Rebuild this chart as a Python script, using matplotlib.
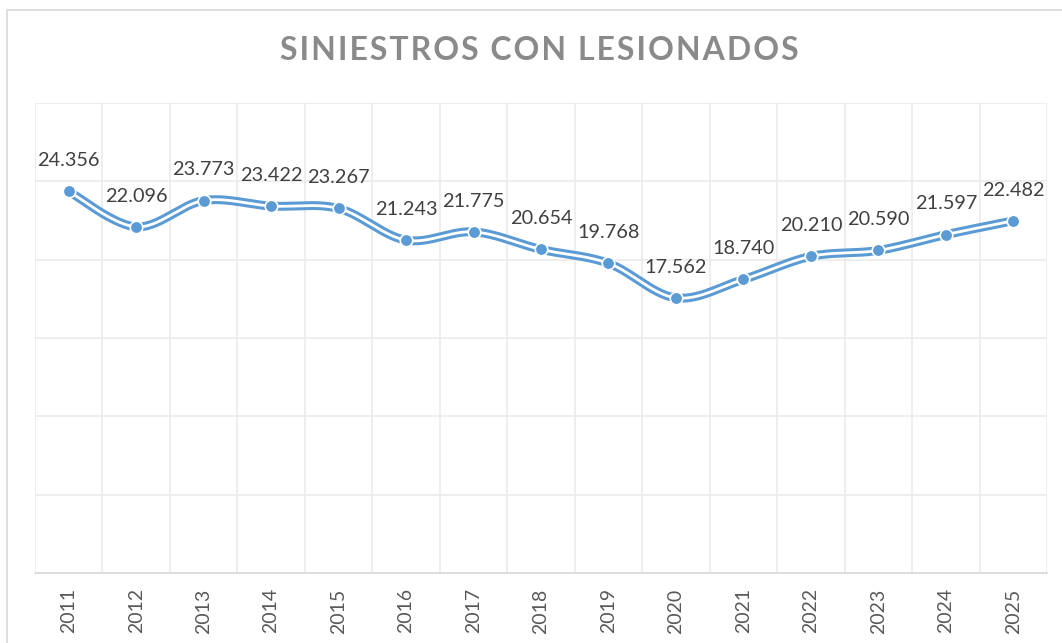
import numpy as np
import matplotlib.pyplot as plt
from matplotlib.patches import Rectangle

years = ['2011', '2012', '2013', '2014', '2015', '2016', '2017', '2018',
         '2019', '2020', '2021', '2022', '2023', '2024', '2025']
siniestros = [24356, 22096, 23773, 23422, 23267, 21243, 21775, 20654,
              19768, 17562, 18740, 20210, 20590, 21597, 22482]
title = 'SINIESTROS CON LESIONADOS'

BLUE = '#5B9BD5'
GRID = '#ebebeb'
TEXT = '#404040'


def smooth(x, y, n=30):
    # catmull-rom like excel "smoothed line"
    x = np.asarray(x, float)
    y = np.asarray(y, float)
    px = np.concatenate(([x[0]], x, [x[-1]]))
    py = np.concatenate(([y[0]], y, [y[-1]]))
    xs, ys = [], []
    t = np.linspace(0, 1, n)
    for i in range(1, len(px) - 2):
        p0, p1, p2, p3 = (px[i-1], py[i-1]), (px[i], py[i]), (px[i+1], py[i+1]), (px[i+2], py[i+2])
        c1 = (p1[0] + (p2[0] - p0[0]) / 6, p1[1] + (p2[1] - p0[1]) / 6)
        c2 = (p2[0] - (p3[0] - p1[0]) / 6, p2[1] - (p3[1] - p1[1]) / 6)
        for a, b in ((0, xs), (1, ys)):
            b.extend((1-t)**3 * p1[a] + 3*(1-t)**2*t * c1[a] + 3*(1-t)*t**2 * c2[a] + t**3 * p2[a])
    return np.array(xs), np.array(ys)


plt.rcParams['font.family'] = ['Lato', 'DejaVu Sans']

fig = plt.figure(figsize=(10.62, 6.43), dpi=100)
fig.patches.append(Rectangle((7 / 1062, -0.1), 1.2, 1 - 10 / 643 + 0.1, transform=fig.transFigure,
                             facecolor='white', edgecolor='#d9d9d9', lw=1.2, zorder=-5))
ax = fig.add_axes([35 / 1062, 1 - 573 / 643, 1012 / 1062, 470 / 643])
ax.set_facecolor('none')

x = np.arange(len(years))
sx, sy = smooth(x, siniestros)
ax.plot(sx, sy, color=BLUE, lw=6.4, solid_capstyle='round', zorder=3)
ax.plot(sx, sy, color='white', lw=2.0, solid_capstyle='round', zorder=4)
ax.plot(x, siniestros, 'o', color=BLUE, ms=9, mec='white', mew=1.2, zorder=5)

for xi, v in zip(x, siniestros):
    ax.annotate(f'{v / 1000:.3f}', (xi, v), xytext=(0, 16), textcoords='offset points',
                ha='center', va='bottom', fontsize=14.3, color=TEXT, zorder=6)

ax.set_xlim(-0.5, len(years) - 0.5)
ax.set_ylim(0, 30000)
ax.set_yticks(np.arange(0, 30001, 5000))
ax.set_xticks(x)
ax.set_xticklabels(years, rotation=90, fontsize=14, color='#595959')
ax.set_xticks(np.arange(-0.5, len(years), 1), minor=True)
ax.tick_params(axis='x', which='both', length=0, pad=11)
ax.tick_params(axis='y', length=0, labelleft=False)
ax.grid(axis='y', color=GRID, lw=1.2)
ax.grid(axis='x', which='minor', color=GRID, lw=1.2)
ax.grid(axis='x', which='major', visible=False)
ax.set_axisbelow(True)
for s in ['top', 'left', 'right']:
    ax.spines[s].set_visible(False)
ax.spines['bottom'].set_color('#d9d9d9')
ax.spines['bottom'].set_linewidth(1.2)

spaced = '\u200a'.join(title)
fig.text(539 / 1062, 1 - 50 / 643, spaced, ha='center', va='center', fontsize=23,
         fontweight='bold', color='#8a8a8a')

fig.savefig('out.png', dpi=100)
